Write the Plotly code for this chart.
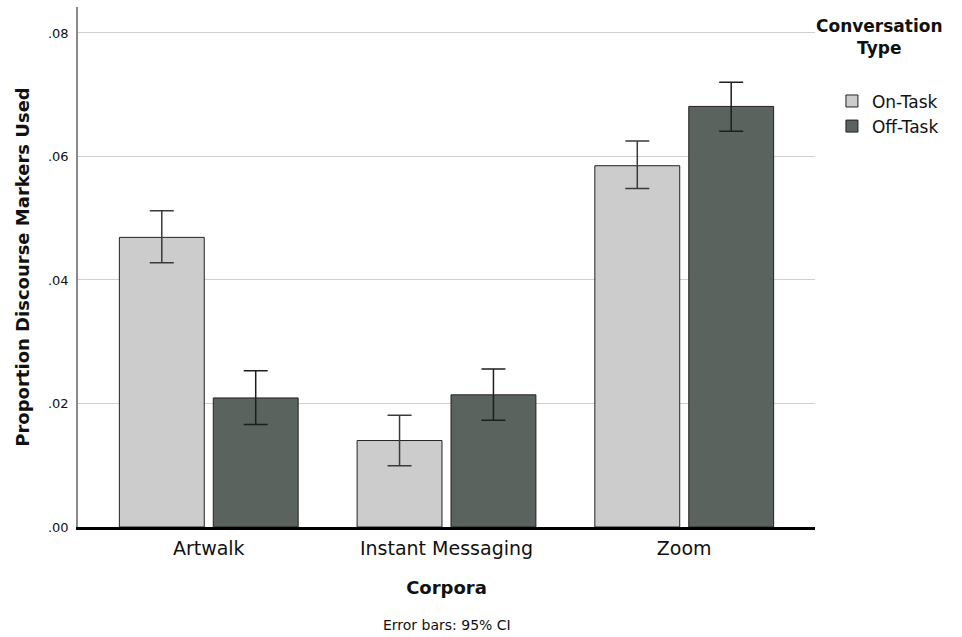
import plotly.graph_objects as go

categories = ["Artwalk", "Instant Messaging", "Zoom"]
on_task = [0.0469, 0.0140, 0.0585]
on_task_hi = [0.0512, 0.0181, 0.0625]
on_task_lo = [0.0428, 0.0099, 0.0548]
off_task = [0.0209, 0.0214, 0.0681]
off_task_hi = [0.0253, 0.0256, 0.0720]
off_task_lo = [0.0166, 0.0173, 0.0641]
tick_vals = [0, 0.02, 0.04, 0.06, 0.08]
tick_text = [".00", ".02", ".04", ".06", ".08"]

FONT = "DejaVu Sans"

def err(vals, hi, lo, color):
    return dict(type="data", symmetric=False,
                array=[h - v for h, v in zip(hi, vals)],
                arrayminus=[v - l for v, l in zip(vals, lo)],
                color=color, thickness=1.5, width=12)

fig = go.Figure()
fig.add_trace(go.Bar(x=categories, y=on_task, name="On-Task",
                     marker=dict(color="#cccccc", line=dict(color="#222222", width=1)),
                     error_y=err(on_task, on_task_hi, on_task_lo, "#3a3a3a")))
fig.add_trace(go.Bar(x=categories, y=off_task, name="Off-Task",
                     marker=dict(color="#5a635e", line=dict(color="#222222", width=1)),
                     error_y=err(off_task, off_task_hi, off_task_lo, "#1e1e1e")))

fig.update_layout(
    width=962, height=637,
    margin=dict(l=78, r=147, t=7, b=110, autoexpand=False),
    paper_bgcolor="white", plot_bgcolor="white",
    barmode="group", bargap=0.21, bargroupgap=0.096,
    font=dict(family=FONT, color="#111111"),
    showlegend=True,
    legend=dict(x=1.023, y=0.853, xanchor="left", yanchor="top",
                font=dict(size=17, family=FONT, color="#111"),
                itemwidth=30, tracegroupgap=0, bgcolor="rgba(0,0,0,0)"),
    xaxis=dict(range=[-0.55, 2.55], showline=True, linecolor="black", linewidth=3,
               ticks="", tickfont=dict(size=19, family=FONT, color="#111"),
               ticklabelstandoff=2, automargin=False,
               title=dict(text="<b>Corpora</b>", font=dict(size=18, family=FONT, color="#111"),
                          standoff=24),
               showgrid=False, zeroline=False, fixedrange=True),
    yaxis=dict(range=[0, 0.0842], tickvals=tick_vals, ticktext=tick_text,
               showline=True, linecolor="#8a8a8a", linewidth=1.5,
               showgrid=True, gridcolor="#cfcfcf", gridwidth=1.2,
               zeroline=False, ticks="", ticklen=0, automargin=False,
               ticklabelstandoff=5,
               tickfont=dict(size=13, family=FONT, color="#111"),
               title=dict(text="<b>Proportion Discourse Markers Used</b>",
                          font=dict(size=18, family=FONT, color="#111"), standoff=14)),
    annotations=[
        dict(text="Error bars: 95% CI", xref="paper", yref="paper",
             x=0.5, y=-0.17, xanchor="center", yanchor="top", showarrow=False,
             font=dict(size=14, family=FONT, color="#111")),
        dict(text="<b>Conversation<br>Type</b>", xref="paper", yref="paper",
             x=1.087, y=0.987, xanchor="center", yanchor="top", showarrow=False,
             align="center",
             font=dict(size=17, family=FONT, color="#111")),
    ],
)

fig.write_html("out.html", config={"displayModeBar": False},
               post_script="document.body.style.margin='0px';document.body.style.padding='0px';")
